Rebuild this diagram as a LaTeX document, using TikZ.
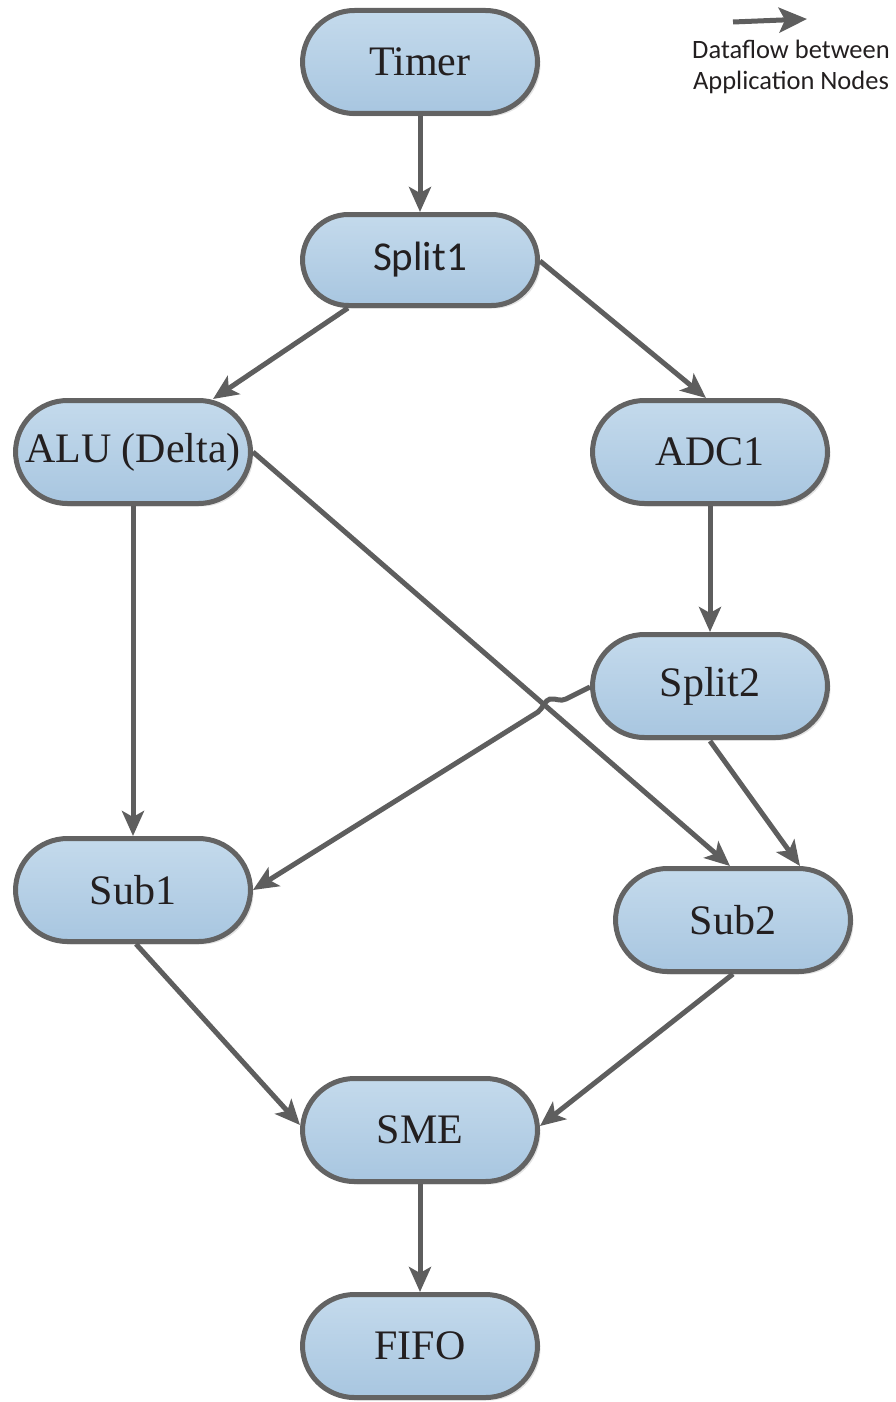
\documentclass[tikz,border=0pt]{standalone}
\usepackage{fontspec}
\setmainfont{Liberation Serif}
\newfontfamily\calibrilike{Carlito}
\usetikzlibrary{arrows.meta,shadows,calc}

\definecolor{edgegray}{HTML}{5E5E5E}
\definecolor{rimgray}{HTML}{636363}
\definecolor{filltop}{HTML}{C4DAEC}
\definecolor{fillbottom}{HTML}{A8C6E0}
\definecolor{inkdark}{HTML}{231F20}

\tikzset{
  appnode/.style={
    rectangle, rounded corners=52pt,
    minimum width=235pt, minimum height=103pt, inner sep=0pt,
    draw=rimgray, line width=5pt,
    top color=filltop, bottom color=fillbottom,
    drop shadow={shadow xshift=3pt, shadow yshift=-3pt, fill=black!18, opacity=.6},
    text=inkdark, font=\fontsize{42}{48}\selectfont
  },
  flatnode/.style={appnode, rounded corners=46pt, minimum height=91pt,
    font=\calibrilike\fontsize{41}{48}\selectfont},
  flow/.style={draw=edgegray, line width=5pt,
    -{Stealth[length=25pt,width=22pt,inset=6pt]}},
  legendtext/.style={text=inkdark, align=center,
    font=\calibrilike\fontsize{26.5}{31}\selectfont}
}

\begin{document}
\begin{tikzpicture}[x=1pt, y=-1pt]
  \useasboundingbox (0,0) rectangle (895,1402);

  % application nodes
  \node[appnode]  (timer)  at (420,62)   {Timer};
  \node[flatnode] (split1) at (420,260)  {Split1};
  \node[appnode]  (alu)    at (133,452)  {ALU (Delta)};
  \node[appnode]  (adc1)   at (710,452)  {ADC1};
  \node[appnode]  (split2) at (710,686)  {Split2};
  \node[appnode]  (sub1)   at (133,890)  {Sub1};
  \node[appnode]  (sub2)   at (733,920)  {Sub2};
  \node[appnode]  (sme)    at (420,1130) {SME};
  \node[appnode]  (fifo)   at (420,1346) {FIFO};

  % dataflow edges
  \draw[flow] (timer.south) -- (split1.north);
  \draw[flow] ($(split1.south)+(-72,0)$) -- ($(alu.north)+(80,1)$);
  \draw[flow] ($(split1.east)+(0,1)$) -- ($(adc1.north)+(-4,0)$);
  \draw[flow] (alu.south) -- (sub1.north);
  \draw[flow] (alu.east) -- ($(sub2.north)+(-3,0)$);
  \draw[flow] (adc1.south) -- (split2.north);
  \draw[flow] ($(split2.south)+(0,1)$) -- ($(sub2.north)+(67,0)$);
  \draw[flow] ($(sub1.south)+(3,0)$) -- ($(sme.west)+(0,-5)$);
  \draw[flow] (sub2.south) -- ($(sme.east)+(0,-4)$);
  \draw[flow] (sme.south) -- (fifo.north);

  % Split2 -> Sub1 hops over the ALU -> Sub2 edge
  \coordinate (hopin)  at (566,699);
  \coordinate (hoptop) at (550,699);
  \coordinate (hopout) at (538,712);
  \draw[flow] ($(split2.west)+(0,1)$) -- (hopin)
    .. controls (560,702) and (556,698) .. (hoptop)
    .. controls (545,700) and (543,708) .. (hopout)
    -- (sub1.east);

  % legend
  \coordinate (legfrom) at (733,22);
  \coordinate (legto)   at (807,19);
  \draw[flow, -{Stealth[length=28pt,width=25pt,inset=6pt]}] (legfrom) -- (legto);
  \node[legendtext] (legend) at (791,67) {Dataflow between\\Application Nodes};
\end{tikzpicture}
\end{document}
